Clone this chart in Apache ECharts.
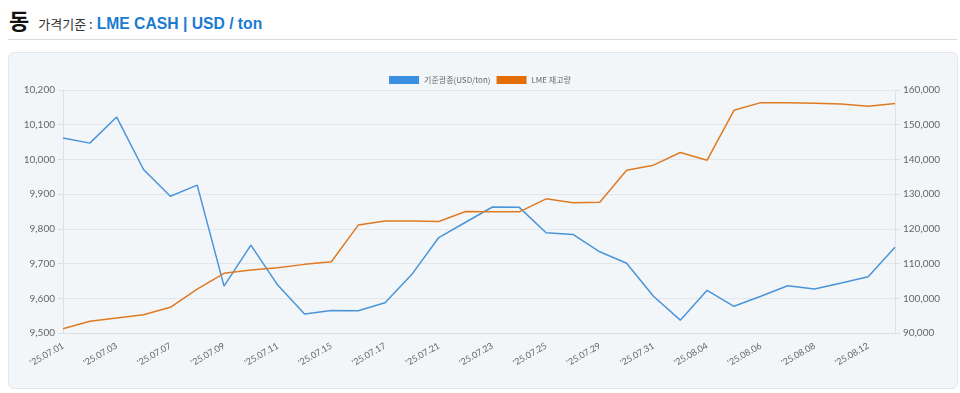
<!DOCTYPE html>
<html><head><meta charset="utf-8">
<script src="https://cdn.jsdelivr.net/npm/echarts@6/dist/echarts.min.js"></script>
<style>
html,body{margin:0;padding:0;width:960px;height:393px;background:#fff;overflow:hidden;font-family:"Noto Sans CJK KR","Noto Sans",sans-serif;}
#hdr{position:absolute;left:9px;top:3px;height:32px;display:flex;align-items:baseline;white-space:nowrap;}
#hdr .t1{font-size:22px;font-weight:bold;color:#111;}
#hdr .t2{font-size:13px;color:#333;margin-left:9px;}
#hdr .t3{font-size:15.7px;font-weight:bold;color:#1b7bd0;margin-left:4px;font-family:"Liberation Sans",Arial,sans-serif;}
#sep{position:absolute;left:8px;top:39px;width:949px;height:1px;background:#dcdcdc;}
#panel{position:absolute;left:8px;top:52px;width:948px;height:335px;background:#f3f6f9;border:1px solid #e2e6eb;border-radius:6px;}
#chart{position:absolute;left:0;top:0;width:960px;height:393px;}
</style></head>
<body>
<div id="hdr"><span class="t1">동</span><span class="t2">가격기준 :</span><span class="t3">LME CASH | USD / ton</span></div>
<div id="sep"></div>
<div id="panel"></div>
<div id="chart"></div>
<script>
const categories = ["'25.07.01","'25.07.02","'25.07.03","'25.07.04","'25.07.07","'25.07.08","'25.07.09","'25.07.10","'25.07.11","'25.07.14","'25.07.15","'25.07.16","'25.07.17","'25.07.18","'25.07.21","'25.07.22","'25.07.23","'25.07.24","'25.07.25","'25.07.28","'25.07.29","'25.07.30","'25.07.31","'25.08.01","'25.08.04","'25.08.05","'25.08.06","'25.08.07","'25.08.08","'25.08.11","'25.08.12","'25.08.13"];
const priceName = "기준광종(USD/ton)";
const stockName = "LME 재고량";
const priceValues = [10062,10047,10122,9971,9894,9926,9635,9753,9638,9555,9565,9564,9587,9669,9775,9819,9863,9862,9789,9784,9734,9701,9606,9537,9623,9577,9606,9636,9627,9644,9662,9747];
const stockValues = [91240,93370,94320,95270,97400,102660,107180,108130,108790,109770,110520,121080,122230,122230,122100,125010,124900,124900,128640,127490,127690,136900,138340,141990,139780,154160,156360,156300,156200,155980,155310,156080];
const leftTicks = {min:9500, max:10200, interval:100};
const rightTicks = {min:90000, max:160000, interval:10000};

const chart = echarts.init(document.getElementById('chart'), null, {renderer:'canvas'});
const axisLabelStyle = {color:'#666', fontSize:10, fontFamily:'Lato, sans-serif', formatter: v => v.toLocaleString('en-US')};
chart.setOption({
  backgroundColor:'transparent',
  animation:false,
  legend:{
    top:71, left:'center', itemWidth:30, itemHeight:8, itemGap:6,
    textStyle:{color:'#666', fontSize:8, fontFamily:'"Noto Sans CJK KR", sans-serif'},
    data:[{name:priceName, icon:'rect'},{name:stockName, icon:'rect'}]
  },
  grid:{left:63, right:65, top:90, bottom:60},
  xAxis:{
    type:'category', boundaryGap:false, data:categories,
    axisLine:{lineStyle:{color:'#dde1e6'}},
    axisTick:{show:false},
    axisLabel:{interval:1, rotate:30, color:'#666', fontSize:9, fontFamily:'Lato, sans-serif', margin:12}
  },
  yAxis:[
    {type:'value', min:leftTicks.min, max:leftTicks.max, interval:leftTicks.interval,
     axisLine:{show:true, lineStyle:{color:'#dde1e6'}}, axisTick:{show:true, lineStyle:{color:'#dde1e6'}},
     splitLine:{lineStyle:{color:'#e3e7ec'}}, axisLabel:axisLabelStyle},
    {type:'value', min:rightTicks.min, max:rightTicks.max, interval:rightTicks.interval,
     axisLine:{show:true, lineStyle:{color:'#dde1e6'}}, axisTick:{show:true, lineStyle:{color:'#dde1e6'}},
     splitLine:{show:false}, axisLabel:axisLabelStyle}
  ],
  series:[
    {name:priceName, type:'line', yAxisIndex:0, data:priceValues, showSymbol:false, symbol:'none',
     itemStyle:{color:'#3a8fe0'}, lineStyle:{color:'#4a94d8', width:1.5}},
    {name:stockName, type:'line', yAxisIndex:1, data:stockValues, showSymbol:false, symbol:'none',
     itemStyle:{color:'#e36d06'}, lineStyle:{color:'#e07a22', width:1.5}}
  ]
});
</script>
</body></html>
